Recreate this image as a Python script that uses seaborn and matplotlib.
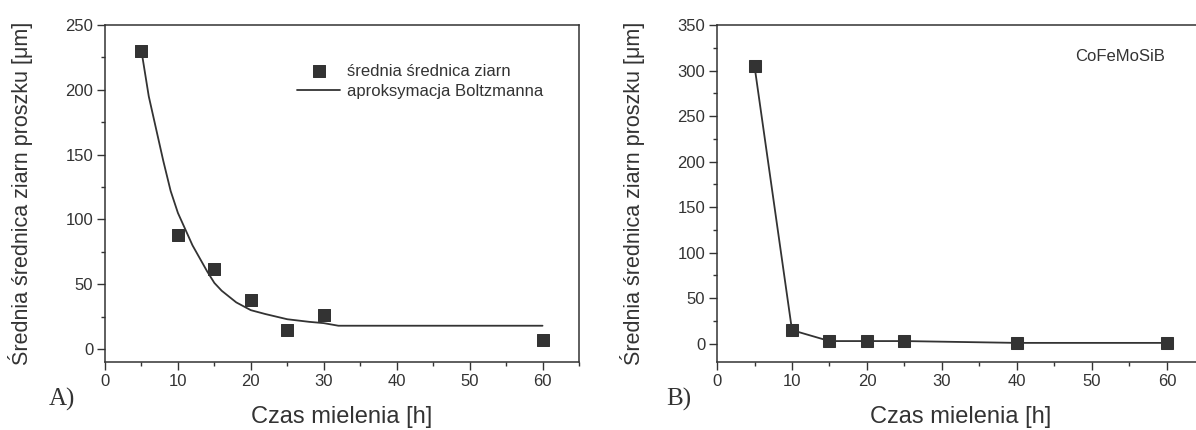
import matplotlib
matplotlib.use("Agg")
import matplotlib.pyplot as plt
import seaborn as sns
import pandas as pd
from matplotlib.ticker import MultipleLocator

# ---- data ----
a_time = [5, 10, 15, 20, 25, 30, 60]
a_size = [230, 88, 62, 38, 15, 26, 7]
fit_time = [5, 6, 7, 8, 9, 10, 12, 14, 15, 16, 18, 20, 22, 25, 28, 30, 32, 60]
fit_size = [230, 195, 170, 145, 122, 105, 80, 60, 51, 45, 36, 30, 27, 23, 21, 20, 18, 18]
b_time = [5, 10, 15, 20, 25, 40, 60]
b_size = [305, 15, 3, 3, 3, 1, 1]

ylabel = "Średnia średnica ziarn proszku [μm]"
xlabel = "Czas mielenia [h]"
legend_labels = ["średnia średnica ziarn", "aproksymacja Boltzmanna"]
sample = "CoFeMoSiB"

sns.set_style("ticks")
plt.rcParams['font.family'] = ['Liberation Sans', 'DejaVu Sans']
C = "#333333"
plt.rcParams.update({"axes.edgecolor": C, "xtick.color": C, "ytick.color": C,
                     "text.color": C, "axes.labelcolor": C, "axes.linewidth": 1.1})

fig = plt.figure(figsize=(11.96, 4.30), dpi=100)
axA = fig.add_axes([0.0878, 0.1581, 0.3963, 0.7837])
axB = fig.add_axes([0.5995, 0.1581, 0.4076, 0.7837])

dfA = pd.DataFrame({"t": a_time, "d": a_size})
dfF = pd.DataFrame({"t": fit_time, "d": fit_size})
dfB = pd.DataFrame({"t": b_time, "d": b_size})

sns.lineplot(data=dfF, x="t", y="d", ax=axA, color=C, lw=1.3, label=legend_labels[1], sort=False)
sns.scatterplot(data=dfA, x="t", y="d", ax=axA, marker="s", s=80, color=C, edgecolor=C,
                label=legend_labels[0], zorder=3)
sns.lineplot(data=dfB, x="t", y="d", ax=axB, color=C, lw=1.3, marker="s", ms=8,
             mec=C, mfc=C)

for ax in (axA, axB):
    ax.set_xlim(0, 65)
    ax.xaxis.set_major_locator(MultipleLocator(10))
    ax.xaxis.set_minor_locator(MultipleLocator(5))
    ax.yaxis.set_major_locator(MultipleLocator(50))
    ax.yaxis.set_minor_locator(MultipleLocator(25))
    ax.tick_params(which="major", direction="out", length=5.5, width=1.0, labelsize=12, pad=3)
    ax.tick_params(which="minor", direction="out", length=3, width=1.0)
    ax.set_xlabel(xlabel, fontsize=17)
    ax.set_ylabel(ylabel, fontsize=15.5)
    ax.xaxis.set_label_coords(0.5, -0.163)
    for s in ax.spines.values():
        s.set_visible(True)

axA.yaxis.set_label_coords(-0.178, 0.5)
axB.yaxis.set_label_coords(-0.174, 0.5)
axA.yaxis.label.set_va("center")
axB.yaxis.label.set_va("center")
axA.xaxis.label.set_va("center")
axB.xaxis.label.set_va("center")

axA.set_ylim(-10, 250)
axB.set_ylim(-20, 350)

h, l = axA.get_legend_handles_labels()
axA.legend([h[1], h[0]], [l[1], l[0]], loc="upper left", bbox_to_anchor=(0.405, 0.885),
           frameon=False, fontsize=12, handlelength=2.6, handletextpad=0.4,
           labelspacing=0.3, borderpad=0, borderaxespad=0)
if axB.get_legend():
    axB.get_legend().remove()

axB.text(0.734, 0.908, sample, transform=axB.transAxes, fontsize=12, color=C, va="center")

fig.text(0.041, 0.07, "A)", fontsize=18, family="Liberation Serif", color=C, va="center")
fig.text(0.557, 0.07, "B)", fontsize=18, family="Liberation Serif", color=C, va="center")

fig.savefig("out.png", dpi=100)
